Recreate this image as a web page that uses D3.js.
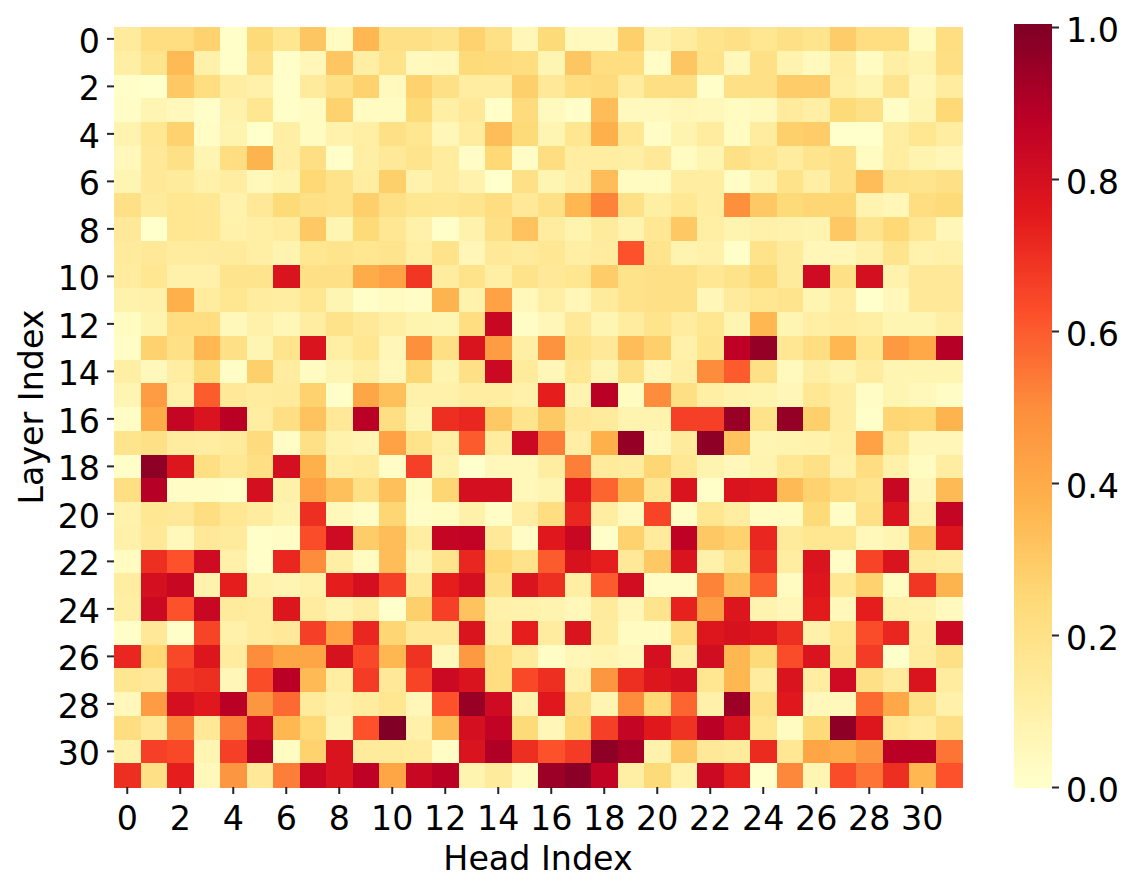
<!DOCTYPE html>
<html>
<head>
<meta charset="utf-8">
<script src="https://cdn.jsdelivr.net/npm/d3@7/dist/d3.min.js"></script>
<style>
html,body{margin:0;padding:0;background:#fff}
svg{display:block}
text{font-family:"DejaVu Sans",sans-serif;fill:#000}
</style>
</head>
<body>
<svg id="chart" width="1135" height="891"></svg>
<script>
const xTickLabels = d3.range(0, 32, 2);
const yTickLabels = d3.range(0, 32, 2);
const colorbarTicks = [0, 0.2, 0.4, 0.6, 0.8, 1.0];
const palette = ["#ffffcc","#ffeda0","#fed976","#feb24c","#fd8d3c","#fc4e2a","#e31a1c","#bd0026","#800026"];
const xTitle = "Head Index";
const yTitle = "Layer Index";

const layerValues = [
[.14,.22,.22,.27,.01,.24,.17,.31,.03,.36,.2,.2,.18,.27,.2,.06,.24,.04,.04,.28,.09,.13,.18,.2,.17,.2,.18,.29,.22,.22,.03,.22],
[.11,.18,.35,.1,.01,.2,.01,.06,.31,.11,.19,.04,.05,.24,.23,.22,.07,.31,.22,.22,.02,.31,.19,.05,.2,.08,.04,.12,.03,.11,.08,.21],
[.01,0,.3,.22,.12,.1,.01,.14,.2,.27,.04,.27,.2,.12,.12,.28,.15,.22,.23,.13,.21,.21,.01,.2,.2,.29,.29,.11,.07,.18,.06,.13],
[.02,.07,.05,.01,.09,.17,.01,.03,.27,.03,.03,.24,.11,.15,.01,.23,.04,.01,.34,.04,.04,.06,.05,.03,.04,.14,.11,.24,.2,.02,.07,.25],
[.08,.16,.27,.02,.08,0,.11,.03,.09,.11,.2,.17,.06,.13,.34,.24,.07,.17,.38,.16,.02,.08,.13,.03,.13,.28,.29,0,0,.12,.17,.12],
[.05,.15,.2,.07,.22,.37,.11,.21,.01,.11,.15,.18,.13,.02,.25,.02,.22,.12,.12,.11,.15,.03,.07,.2,.17,.13,.18,.2,.03,.12,.08,.06],
[.07,.15,.14,.1,.12,.05,.08,.25,.19,.12,.28,.09,.13,.09,0,.2,.07,.11,.34,.03,.03,.12,.12,.02,.08,.19,.11,.2,.34,.19,.18,.2],
[.2,.14,.17,.16,.09,.15,.24,.2,.19,.28,.2,.17,.16,.18,.22,.15,.2,.36,.52,.2,.11,.16,.12,.49,.3,.24,.26,.26,.08,.06,.22,.24],
[.15,0,.17,.16,.1,.11,.13,.3,.07,.24,.16,.1,.01,.09,.2,.32,.13,.08,.14,.08,.16,.3,.11,.08,.1,.09,.08,.3,.18,.25,.16,.06],
[.14,.15,.13,.13,.14,.11,.08,.17,.18,.17,.18,.11,.19,.06,.15,.14,.16,.11,.13,.62,.18,.08,.1,.01,.19,.14,.06,.06,.1,.18,.09,.1],
[.13,.17,.1,.1,.18,.18,.78,.2,.2,.4,.43,.68,.13,.19,.11,.19,.15,.17,.29,.19,.2,.2,.16,.19,.24,.14,.82,.2,.8,.09,.15,.15],
[.09,.1,.38,.13,.17,.13,.12,.17,.07,.01,.03,.02,.37,.09,.43,.05,.11,.06,.14,.19,.2,.2,.06,.14,.17,.18,.07,.12,0,.05,.15,.15],
[.03,.08,.22,.22,.05,.1,.06,.12,.19,.15,.11,.08,.07,.22,.84,.02,.06,.15,.07,.13,.18,.13,.17,.07,.36,.07,.11,.13,.11,.07,.07,.11],
[.02,.27,.2,.36,.2,.07,.18,.78,.11,.17,.06,.49,.21,.78,.45,.11,.48,.19,.15,.34,.28,.1,.18,.87,.96,.16,.22,.36,.17,.46,.41,.89],
[.11,.05,.12,.24,.02,.28,.13,.03,.07,.11,.05,.26,.08,.2,.83,.14,.06,.16,.07,.2,.06,.11,.5,.6,.2,.04,.11,.08,.13,.07,.07,.07],
[.07,.45,.1,.6,.15,.13,.14,.27,.01,.42,.33,.1,.1,.12,.12,.1,.74,.08,.88,.03,.5,.21,.11,.09,.08,.06,.16,.12,.02,.07,.05,.02],
[.02,.4,.85,.78,.88,.12,.21,.32,.15,.88,.21,.07,.7,.72,.3,.18,.3,.15,.14,.08,.08,.66,.66,.95,.19,.96,.28,.12,.01,.26,.25,.37],
[.18,.2,.13,.12,.14,.23,.02,.2,.09,.07,.43,.19,.11,.6,.13,.83,.53,.11,.38,.96,.05,.14,.97,.32,.07,.08,.09,.11,.43,.17,.06,.06],
[.01,.97,.77,.21,.16,.21,.8,.38,.12,.14,.02,.66,.09,0,.05,.05,.12,.53,.14,.13,.26,.16,.08,.05,.08,.16,.2,.1,.22,.1,.03,.12],
[.21,.89,.02,.02,.01,.8,.1,.43,.33,.2,.33,.03,.26,.8,.8,.05,.07,.76,.58,.37,.17,.78,.01,.78,.77,.35,.27,.22,.18,.84,.06,.35],
[.09,.16,.15,.22,.16,.13,.08,.7,.05,.02,.26,.02,.03,.1,.02,.12,.22,.72,.12,.04,.65,.02,.17,.12,.03,.03,.24,.02,.2,.78,.1,.85],
[.1,.15,.05,.15,.14,.01,.02,.63,.82,.29,.34,.12,.85,.86,.15,.02,.76,.84,.01,.27,.14,.87,.3,.27,.72,.14,.17,.17,.05,.07,.3,.77],
[.03,.7,.62,.82,.1,.01,.72,.5,.11,.03,.34,.07,.18,.72,.25,.19,.6,.79,.74,.15,.3,.78,.1,.19,.69,.12,.78,.02,.65,.78,.14,.12],
[.12,.8,.84,.09,.74,.09,.07,.1,.74,.8,.66,.15,.74,.8,.2,.78,.7,.11,.6,.81,.02,.02,.52,.33,.59,.03,.77,.16,.27,.03,.68,.37],
[.11,.83,.62,.84,.14,.13,.77,.13,.08,.12,0,.28,.66,.32,.1,.09,.08,.05,.14,.06,.18,.73,.45,.77,.08,.06,.75,.05,.74,.1,.09,.04],
[.01,.15,.01,.65,.1,.13,.15,.66,.43,.72,.26,.15,.15,.78,.11,.74,.13,.78,.13,.03,.03,.23,.77,.79,.77,.7,.1,.17,.63,.72,.12,.83],
[.72,.25,.64,.77,.13,.5,.42,.42,.79,.64,.36,.69,.05,.46,.22,.14,.02,.06,.07,.05,.8,.12,.81,.36,.24,.63,.78,.18,.67,0,.13,.2],
[.17,.15,.68,.7,.06,.63,.88,.35,.12,.67,.15,.65,.83,.78,.22,.64,.7,.1,.47,.7,.77,.8,.17,.36,.13,.78,.12,.82,.2,.14,.78,.13],
[.05,.45,.8,.76,.88,.47,.57,.14,.1,.13,.17,.06,.62,.95,.82,.09,.76,.2,.07,.5,.25,.58,.1,.94,.2,.76,.05,.05,.57,.41,.2,.1],
[.22,.15,.52,.15,.53,.82,.36,.25,.07,.62,1,.1,.35,.8,.86,.24,.06,.25,.66,.85,.76,.69,.88,.78,.17,.03,.24,.97,.77,.16,.13,.21],
[.1,.66,.64,.07,.66,.89,.03,.27,.78,.14,.14,.13,.02,.78,.9,.7,.62,.67,.97,.92,.09,.3,.15,.14,.71,.16,.42,.4,.47,.88,.88,.55],
[.7,.2,.74,.05,.47,.15,.53,.84,.78,.87,.42,.84,.88,.08,.14,.03,.94,.98,.86,.11,.24,.09,.83,.73,0,.51,.07,.63,.55,.7,.36,.62]
];

const plot = {left:114, right:962, top:27, bottom:787};
const cbar = {left:1014, right:1052};
const fontTick = 33.3;
const fontTitle = 33.3;

const indices = d3.range(32);
const x = d3.scaleBand().domain(indices).range([plot.left, plot.right]).padding(0);
const y = d3.scaleBand().domain(indices).range([plot.top, plot.bottom]).padding(0);
const color = d3.scaleLinear()
  .domain(palette.map((_, i) => i / (palette.length - 1)))
  .range(palette)
  .interpolate(d3.interpolateRgb)
  .clamp(true);

const svg = d3.select("#chart");

const cells = layerValues.flatMap((row, r) => row.map((v, c) => ({r, c, v})));
svg.append("g").attr("shape-rendering", "crispEdges")
  .selectAll("rect").data(cells).join("rect")
  .attr("x", d => x(d.c))
  .attr("y", d => y(d.r))
  .attr("width", x.bandwidth() + 0.5)
  .attr("height", y.bandwidth() + 0.5)
  .attr("fill", d => color(d.v));

function styleAxis(g, size, dy) {
  g.attr("font-family", null);
  g.select(".domain").remove();
  g.selectAll(".tick line").attr("stroke", "#262626").attr("stroke-width", 2);
  g.selectAll(".tick text").style("font-size", size + "px").attr("fill", "#000");
  if (dy) g.selectAll(".tick text").attr("dy", dy);
}

svg.append("g").attr("transform", `translate(0,${plot.bottom})`)
  .call(d3.axisBottom(x).tickValues(xTickLabels).tickSize(7).tickPadding(12).tickSizeOuter(0))
  .call(g => styleAxis(g, fontTick));

svg.append("g").attr("transform", `translate(${plot.left},0)`)
  .call(d3.axisLeft(y).tickValues(yTickLabels).tickSize(7).tickPadding(7).tickSizeOuter(0))
  .call(g => styleAxis(g, fontTick, "0.42em"));

svg.append("text").attr("x", (plot.left + plot.right) / 2).attr("y", 870)
  .attr("text-anchor", "middle").style("font-size", fontTitle + "px").text(xTitle);
svg.append("text")
  .attr("transform", `translate(43,${(plot.top + plot.bottom) / 2}) rotate(-90)`)
  .attr("text-anchor", "middle").style("font-size", fontTitle + "px").text(yTitle);

const barScale = d3.scaleLinear().domain([0, 1]).range([plot.bottom, plot.top]);
const levels = d3.range(256).map(i => i / 255);
svg.append("g").attr("shape-rendering", "crispEdges")
  .selectAll("rect").data(levels).join("rect")
  .attr("x", cbar.left)
  .attr("width", cbar.right - cbar.left)
  .attr("y", d => barScale(d) - (plot.bottom - plot.top) / 256)
  .attr("height", (plot.bottom - plot.top) / 256 + 1)
  .attr("fill", d => color(d));

svg.append("g").attr("transform", `translate(${cbar.right},0)`)
  .call(d3.axisRight(barScale).tickValues(colorbarTicks).tickFormat(d3.format(".1f")).tickSize(7).tickPadding(7).tickSizeOuter(0))
  .call(g => styleAxis(g, fontTick, "0.42em"));
</script>
</body>
</html>
